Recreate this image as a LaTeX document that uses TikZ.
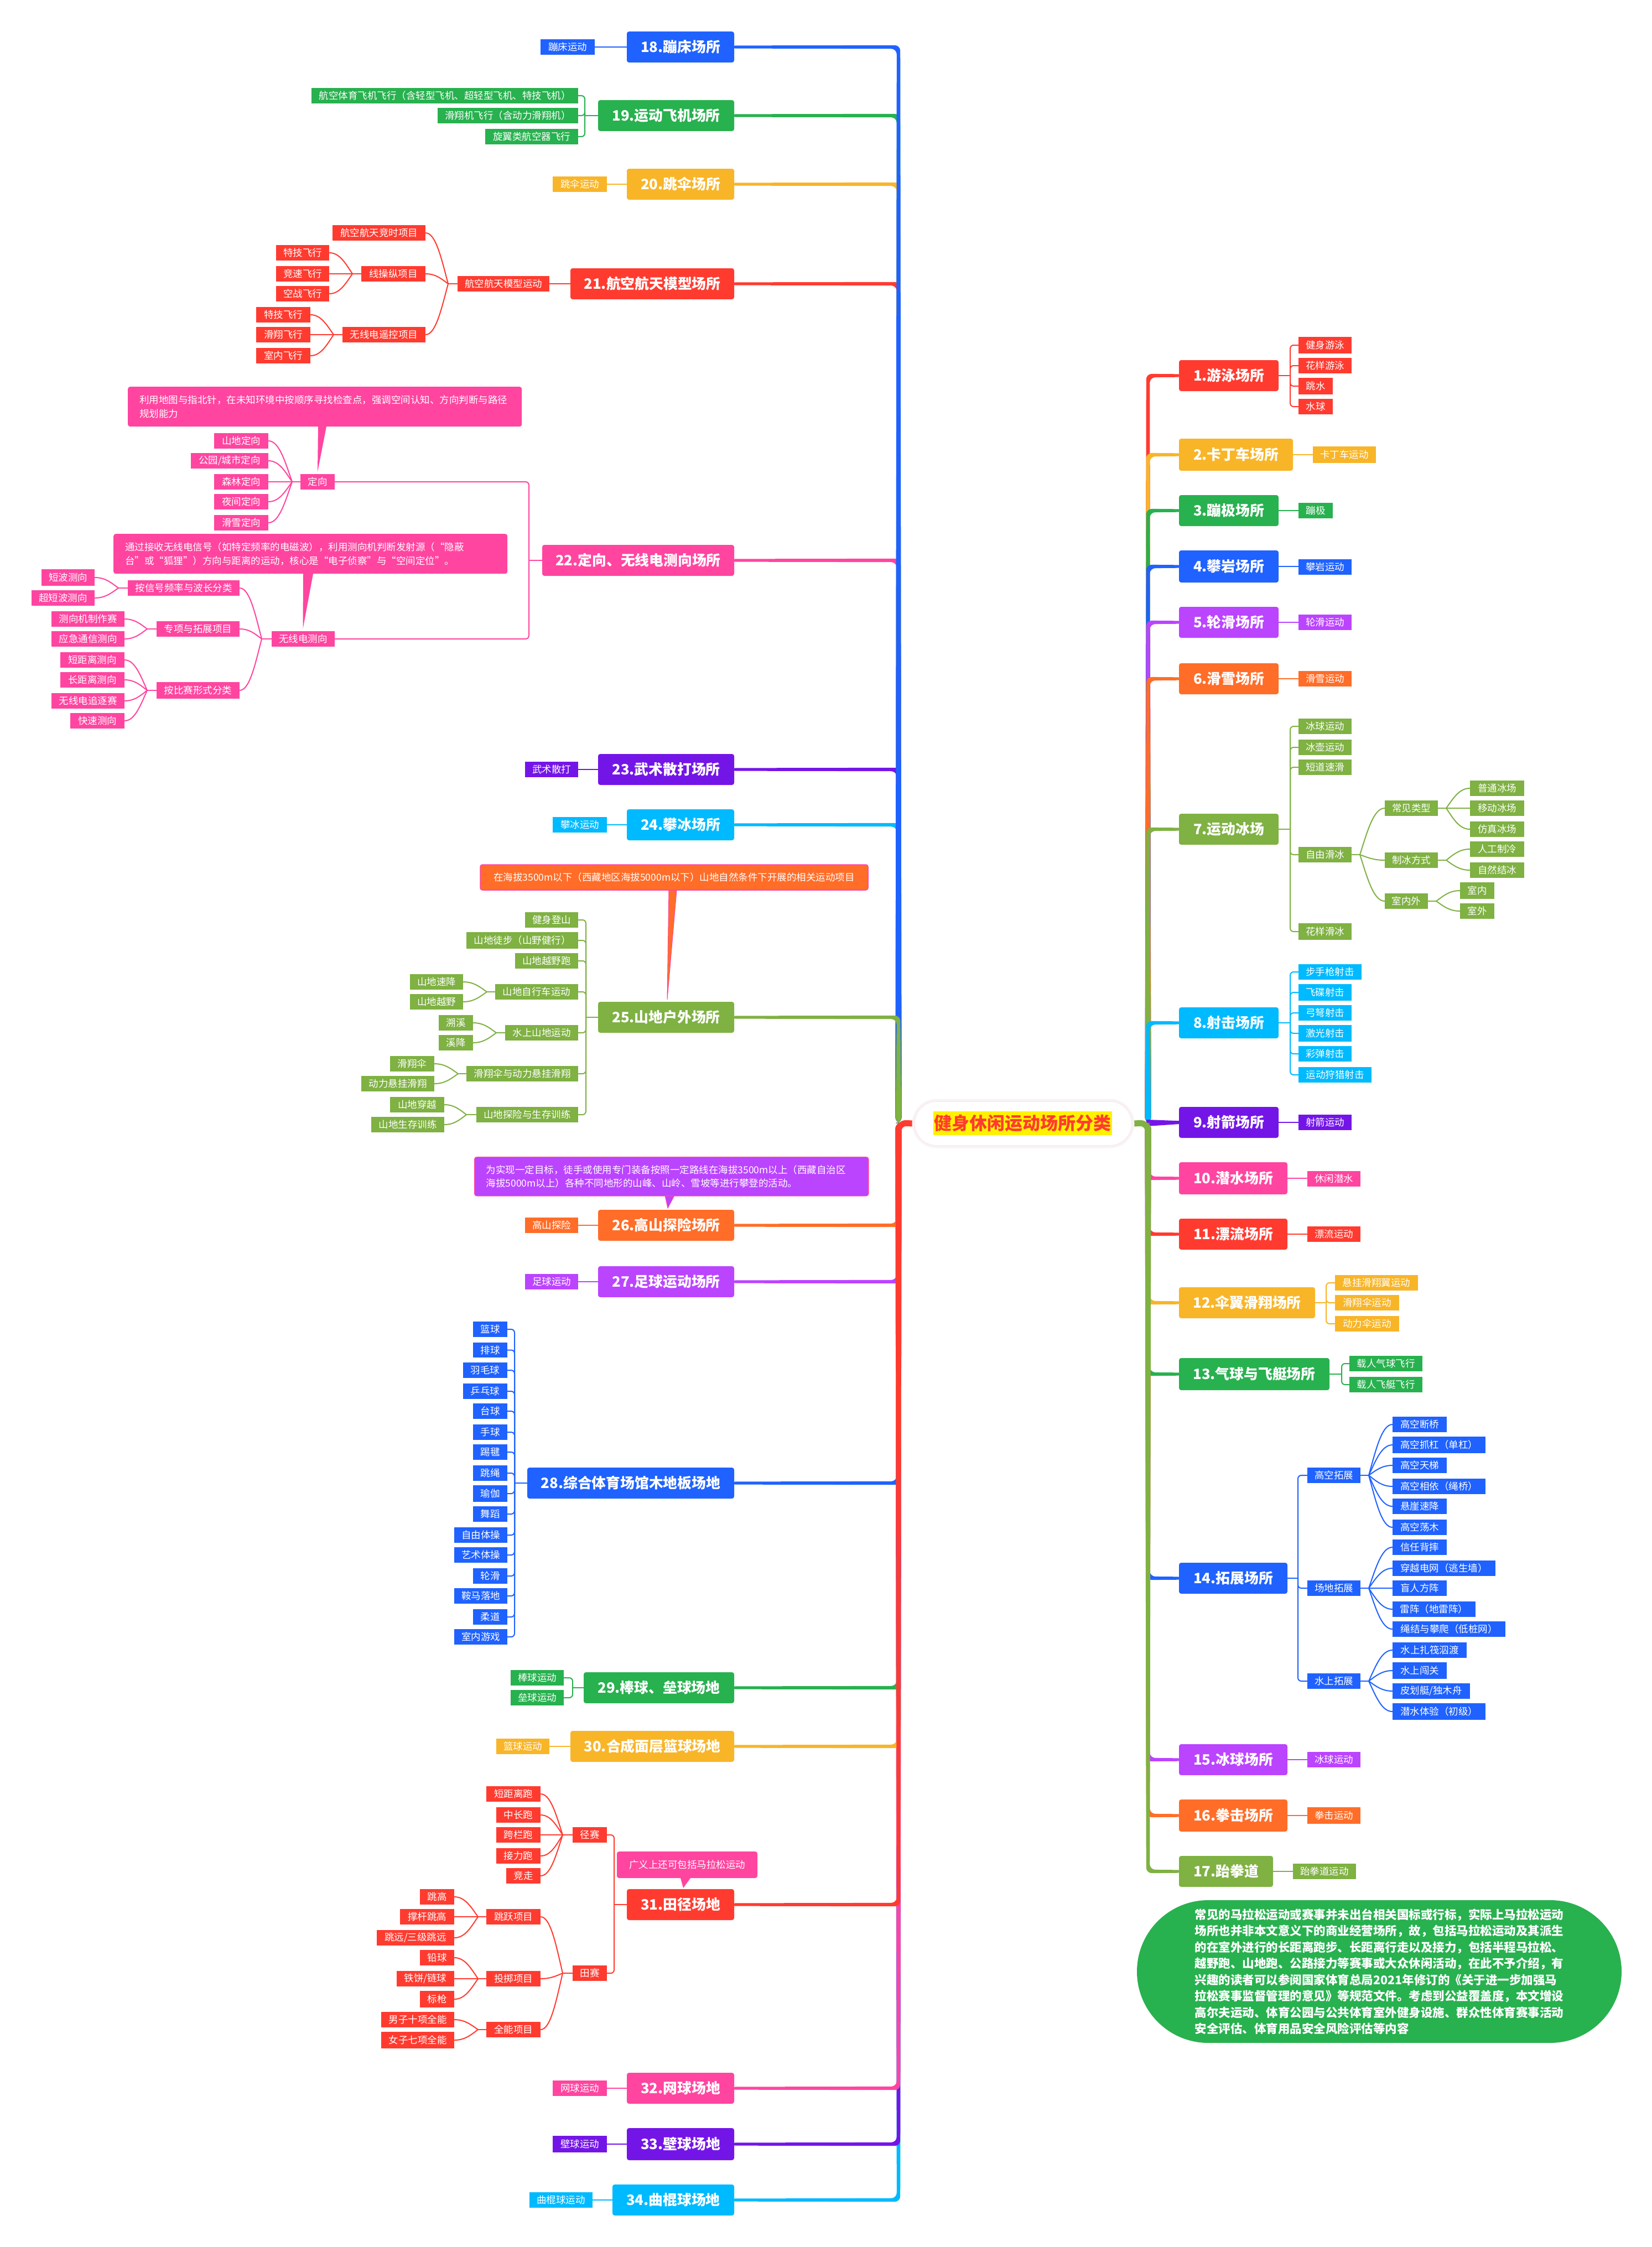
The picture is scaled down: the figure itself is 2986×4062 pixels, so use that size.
\documentclass[tikz,border=0pt]{standalone}
\usepackage{fontspec}
\setmainfont{Noto Sans CJK SC}
\usetikzlibrary{calc,backgrounds}
\definecolor{cR}{HTML}{FF3B30}
\definecolor{cY}{HTML}{F8B528}
\definecolor{cG}{HTML}{28B14F}
\definecolor{cB}{HTML}{1F62FF}
\definecolor{cP}{HTML}{BB44FF}
\definecolor{cO}{HTML}{FF6D28}
\definecolor{cL}{HTML}{7FB143}
\definecolor{cC}{HTML}{00BAFF}
\definecolor{cV}{HTML}{7415E8}
\definecolor{cK}{HTML}{FF45A0}
\tikzset{
  leafbox/.style={inner sep=0pt,text=white,font=\fontsize{17.5}{21}\selectfont},
  topicbox/.style={inner sep=0pt,text=white,rounded corners=4pt,font=\fontsize{25.8}{30}\selectfont\bfseries},
  notebox/.style={inner sep=0pt,text=white,rounded corners=4pt,align=left,font=\fontsize{17.5}{24.5}\selectfont},
  conn/.style={line width=2pt}
}
% colour, name, left, top, right, bottom, text
\newcommand{\lf}[7]{\node[leafbox,fill=#1,minimum width={(#5-#3)*1pt},minimum height={(#6-#4)*1pt}] (#2) at ({(#3+#5)/2},{(#4+#6)/2}) {#7};}
\newcommand{\tp}[7]{\node[topicbox,fill=#1,minimum width={(#5-#3)*1pt},minimum height={(#6-#4)*1pt}] (#2) at ({(#3+#5)/2},{(#4+#6)/2}) {#7};}
% straight link: colour, parent anchor, child anchor
\newcommand{\lk}[3]{\draw[conn,#1,line width=2.5pt] (#2) -- (#2 -| #3);}
% fans: colour, parent, junction x, children
\newcommand{\fanL}[4]{%
  \draw[conn,#1] let \p1=(#2.west) in (\p1) -- (#3pt,\y1);
  \foreach \kid in {#4}{\draw[conn,#1] let \p1=(#2.west), \p2=(\kid.east), \n1={\x2-#3pt}, \n2={\y2-\y1} in (#3pt,\y1) .. controls ({#3pt+0.3*\n1},{\y1+0.5*\n2}) and ({#3pt+0.55*\n1},\y2) .. (\p2);}}
\newcommand{\fanR}[4]{%
  \draw[conn,#1] let \p1=(#2.east) in (\p1) -- (#3pt,\y1);
  \foreach \kid in {#4}{\draw[conn,#1] let \p1=(#2.east), \p2=(\kid.west), \n1={\x2-#3pt}, \n2={\y2-\y1} in (#3pt,\y1) .. controls ({#3pt+0.3*\n1},{\y1+0.5*\n2}) and ({#3pt+0.55*\n1},\y2) .. (\p2);}}
% brackets: colour, parent, junction x, children
\newcommand{\brL}[4]{%
  \draw[conn,#1] let \p1=(#2.west) in (\p1) -- (#3pt,\y1);
  \foreach \kid in {#4}{\draw[conn,#1,rounded corners=6pt] let \p1=(#2.west), \p2=(\kid.east) in (#3pt,\y1) -- (#3pt,\y2) -- (\p2);}}
\newcommand{\brR}[4]{%
  \draw[conn,#1] let \p1=(#2.east) in (\p1) -- (#3pt,\y1);
  \foreach \kid in {#4}{\draw[conn,#1,rounded corners=6pt] let \p1=(#2.east), \p2=(\kid.west) in (#3pt,\y1) -- (#3pt,\y2) -- (\p2);}}
% tapered main branch: colour, topic anchor, trunk x, s(+1 topic above root), d(+1 trunk right of topic)
\newcommand{\branch}[5]{%
  \fill[#1,rounded corners=10pt] let \p1=(#2) in
    ({\x1-(#5)*8pt},{\y1+(#4)*2.6pt}) -- ({#3pt+(#5)*3.2pt},{\y1+(#4)*3.2pt}) -- ({#3pt+(#5)*5.5pt},-2030pt)
    -- ({#3pt-(#5)*5.5pt},-2030pt) -- ({#3pt-(#5)*3.2pt},{\y1-(#4)*3.2pt}) -- ({\x1-(#5)*8pt},{\y1-(#4)*2.6pt}) -- cycle;}
\begin{document}
\begin{tikzpicture}[x=1pt,y=-1pt]
\useasboundingbox (0,0) rectangle (2986,4062);
% ---- root
\node[draw=black!4,line width=9pt,rounded corners=40pt,minimum width=393pt,minimum height=80pt,inner sep=0pt] (rootshadow) at (1849.5,2031) {};
\node[fill=white,draw=cK!12,line width=2pt,rounded corners=40pt,minimum width=393pt,minimum height=80pt,inner sep=0pt] (root) at (1849.5,2031) {};
\node[fill=yellow,text=cR,inner sep=0pt,minimum width=323pt,minimum height=43pt,font=\fontsize{32}{36}\selectfont\bfseries] (roottext) at (1848.5,2030.5) {健身休闲运动场所分类};
% ---- right side
\tp{cR}{t1}{2131}{651}{2311}{707}{1.游泳场所}
\lf{cR}{a1}{2347}{609}{2443}{639}{健身游泳}
\lf{cR}{a2}{2347}{647}{2443}{675}{花样游泳}
\lf{cR}{a3}{2347}{683}{2409}{713}{跳水}
\lf{cR}{a4}{2347}{721}{2409}{749}{水球}
\tp{cY}{t2}{2131}{793}{2337}{851}{2.卡丁车场所}
\lf{cY}{b1}{2373}{807}{2487}{837}{卡丁车运动}
\tp{cG}{t3}{2131}{895}{2311}{951}{3.蹦极场所}
\lf{cG}{c1}{2347}{909}{2409}{937}{蹦极}
\tp{cB}{t4}{2131}{995}{2311}{1053}{4.攀岩场所}
\lf{cB}{d1}{2347}{1011}{2443}{1039}{攀岩运动}
\tp{cP}{t5}{2131}{1097}{2311}{1153}{5.轮滑场所}
\lf{cP}{e1}{2347}{1111}{2443}{1139}{轮滑运动}
\tp{cO}{t6}{2131}{1199}{2311}{1255}{6.滑雪场所}
\lf{cO}{f1}{2347}{1213}{2443}{1241}{滑雪运动}
\tp{cL}{t7}{2131}{1471}{2311}{1527}{7.运动冰场}
\lf{cL}{g1}{2347}{1299}{2443}{1327}{冰球运动}
\lf{cL}{g2}{2347}{1337}{2443}{1365}{冰壶运动}
\lf{cL}{g3}{2347}{1373}{2443}{1401}{短道速滑}
\lf{cL}{g4}{2347}{1531}{2443}{1559}{自由滑冰}
\lf{cL}{g5}{2347}{1669}{2443}{1699}{花样滑冰}
\lf{cL}{g41}{2503}{1447}{2599}{1475}{常见类型}
\lf{cL}{g42}{2503}{1541}{2599}{1569}{制冰方式}
\lf{cL}{g43}{2503}{1615}{2581}{1643}{室内外}
\lf{cL}{g411}{2657}{1411}{2755}{1439}{普通冰场}
\lf{cL}{g412}{2657}{1447}{2755}{1475}{移动冰场}
\lf{cL}{g413}{2657}{1485}{2755}{1513}{仿真冰场}
\lf{cL}{g421}{2657}{1521}{2755}{1549}{人工制冷}
\lf{cL}{g422}{2657}{1559}{2755}{1587}{自然结冰}
\lf{cL}{g431}{2639}{1595}{2701}{1625}{室内}
\lf{cL}{g432}{2639}{1633}{2701}{1661}{室外}
\tp{cC}{t8}{2131}{1821}{2311}{1877}{8.射击场所}
\lf{cC}{h1}{2347}{1743}{2461}{1771}{步手枪射击}
\lf{cC}{h2}{2347}{1779}{2443}{1809}{飞碟射击}
\lf{cC}{h3}{2347}{1817}{2443}{1845}{弓弩射击}
\lf{cC}{h4}{2347}{1853}{2443}{1883}{激光射击}
\lf{cC}{h5}{2347}{1891}{2443}{1919}{彩弹射击}
\lf{cC}{h6}{2347}{1929}{2479}{1957}{运动狩猎射击}
\tp{cV}{t9}{2131}{2001}{2311}{2057}{9.射箭场所}
\lf{cV}{i1}{2347}{2015}{2443}{2043}{射箭运动}
\tp{cK}{t10}{2131}{2101}{2327}{2159}{10.潜水场所}
\lf{cK}{j1}{2363}{2117}{2459}{2145}{休闲潜水}
\tp{cR}{t11}{2131}{2203}{2327}{2259}{11.漂流场所}
\lf{cR}{k1}{2363}{2217}{2459}{2245}{漂流运动}
\tp{cY}{t12}{2131}{2327}{2377}{2383}{12.伞翼滑翔场所}
\lf{cY}{l1}{2413}{2305}{2563}{2333}{悬挂滑翔翼运动}
\lf{cY}{l2}{2413}{2341}{2529}{2369}{滑翔伞运动}
\lf{cY}{l3}{2413}{2379}{2529}{2407}{动力伞运动}
\tp{cG}{t13}{2131}{2455}{2403}{2513}{13.气球与飞艇场所}
\lf{cG}{m1}{2439}{2451}{2571}{2479}{载人气球飞行}
\lf{cG}{m2}{2439}{2489}{2571}{2517}{载人飞艇飞行}
\tp{cB}{t14}{2131}{2825}{2327}{2881}{14.拓展场所}
\lf{cB}{n1}{2363}{2653}{2459}{2681}{高空拓展}
\lf{cB}{n2}{2363}{2857}{2459}{2885}{场地拓展}
\lf{cB}{n3}{2363}{3025}{2459}{3053}{水上拓展}
\lf{cB}{n11}{2517}{2561}{2615}{2589}{高空断桥}
\lf{cB}{n12}{2517}{2597}{2685}{2627}{高空抓杠（单杠）}
\lf{cB}{n13}{2517}{2635}{2615}{2663}{高空天梯}
\lf{cB}{n14}{2517}{2673}{2685}{2701}{高空相依（绳桥）}
\lf{cB}{n15}{2517}{2709}{2615}{2737}{悬崖速降}
\lf{cB}{n16}{2517}{2747}{2615}{2775}{高空荡木}
\lf{cB}{n21}{2517}{2783}{2615}{2811}{信任背摔}
\lf{cB}{n22}{2517}{2821}{2703}{2849}{穿越电网（逃生墙）}
\lf{cB}{n23}{2517}{2857}{2615}{2885}{盲人方阵}
\lf{cB}{n24}{2517}{2895}{2667}{2923}{雷阵（地雷阵）}
\lf{cB}{n25}{2517}{2931}{2721}{2959}{绳结与攀爬（低桩网）}
\lf{cB}{n31}{2517}{2969}{2651}{2997}{水上扎筏泅渡}
\lf{cB}{n32}{2517}{3005}{2615}{3035}{水上闯关}
\lf{cB}{n33}{2517}{3043}{2657}{3071}{皮划艇/独木舟}
\lf{cB}{n34}{2517}{3079}{2685}{3109}{潜水体验（初级）}
\tp{cP}{t15}{2131}{3153}{2327}{3209}{15.冰球场所}
\lf{cP}{o1}{2363}{3167}{2459}{3195}{冰球运动}
\tp{cO}{t16}{2131}{3253}{2327}{3311}{16.拳击场所}
\lf{cO}{p1}{2363}{3267}{2459}{3297}{拳击运动}
\tp{cL}{t17}{2131}{3355}{2301}{3411}{17.跆拳道}
\lf{cL}{q1}{2337}{3369}{2451}{3397}{跆拳道运动}
\node[fill=cG,rounded corners=129pt,minimum width=876pt,minimum height=258pt,inner sep=0pt,text=white,align=left,font=\fontsize{21.5}{29.5}\selectfont\bfseries] (memo) at (2493,3564) {常见的马拉松运动或赛事并未出台相关国标或行标，实际上马拉松运动\\场所也并非本文意义下的商业经营场所，故，包括马拉松运动及其派生\\的在室外进行的长距离跑步、长距离行走以及接力，包括半程马拉松、\\越野跑、山地跑、公路接力等赛事或大众休闲活动，在此不予介绍，有\\兴趣的读者可以参阅国家体育总局2021年修订的《关于进一步加强马\\拉松赛事监督管理的意见》等规范文件。考虑到公益覆盖度，本文增设\\高尔夫运动、体育公园与公共体育室外健身设施、群众性体育赛事活动\\安全评估、体育用品安全风险评估等内容};
% ---- left side, upper
\tp{cB}{t18}{1133}{57}{1327}{113}{18.蹦床场所}
\lf{cB}{r1}{977}{71}{1075}{99}{蹦床运动}
\tp{cG}{t19}{1081}{181}{1327}{237}{19.运动飞机场所}
\lf{cG}{s1}{563}{159}{1045}{187}{航空体育飞机飞行（含轻型飞机、超轻型飞机、特技飞机）}
\lf{cG}{s2}{791}{195}{1045}{223}{滑翔机飞行（含动力滑翔机）}
\lf{cG}{s3}{877}{233}{1045}{261}{旋翼类航空器飞行}
\tp{cY}{t20}{1133}{305}{1327}{361}{20.跳伞场所}
\lf{cY}{u1}{999}{319}{1097}{347}{跳伞运动}
\tp{cR}{t21}{1031}{485}{1327}{541}{21.航空航天模型场所}
\lf{cR}{v0}{827}{499}{993}{527}{航空航天模型运动}
\lf{cR}{v1}{601}{407}{769}{435}{航空航天竞时项目}
\lf{cR}{v2}{653}{481}{769}{509}{线操纵项目}
\lf{cR}{v3}{619}{591}{769}{619}{无线电遥控项目}
\lf{cR}{v21}{499}{443}{595}{471}{特技飞行}
\lf{cR}{v22}{499}{481}{595}{509}{竞速飞行}
\lf{cR}{v23}{499}{517}{595}{545}{空战飞行}
\lf{cR}{v31}{463}{555}{561}{583}{特技飞行}
\lf{cR}{v32}{463}{591}{561}{619}{滑翔飞行}
\lf{cR}{v33}{463}{629}{561}{657}{室内飞行}
\tp{cK}{t22}{980}{985}{1327}{1041}{22.定向、无线电测向场所}
\lf{cK}{w1}{543}{857}{605}{885}{定向}
\lf{cK}{w2}{491}{1141}{605}{1169}{无线电测向}
\lf{cK}{w11}{387}{783}{485}{811}{山地定向}
\lf{cK}{w12}{345}{819}{485}{847}{公园/城市定向}
\lf{cK}{w13}{387}{857}{485}{885}{森林定向}
\lf{cK}{w14}{387}{893}{485}{921}{夜间定向}
\lf{cK}{w15}{387}{931}{485}{959}{滑雪定向}
\lf{cK}{w21}{231}{1049}{433}{1077}{按信号频率与波长分类}
\lf{cK}{w22}{283}{1123}{433}{1151}{专项与拓展项目}
\lf{cK}{w23}{283}{1233}{433}{1263}{按比赛形式分类}
\lf{cK}{w211}{75}{1029}{171}{1059}{短波测向}
\lf{cK}{w212}{57}{1067}{171}{1095}{超短波测向}
\lf{cK}{w221}{93}{1105}{225}{1133}{测向机制作赛}
\lf{cK}{w222}{93}{1141}{225}{1169}{应急通信测向}
\lf{cK}{w231}{109}{1179}{225}{1207}{短距离测向}
\lf{cK}{w232}{109}{1215}{225}{1243}{长距离测向}
\lf{cK}{w233}{93}{1253}{225}{1281}{无线电追逐赛}
\lf{cK}{w234}{127}{1289}{225}{1317}{快速测向}
\node[notebox,fill=cK,minimum width=712pt,minimum height=72pt,anchor=north west,text width=670pt,inner xsep=21pt] (note1) at (231,699) {利用地图与指北针，在未知环境中按顺序寻找检查点，强调空间认知、方向判断与路径\\规划能力};
\node[notebox,fill=cK,minimum width=712pt,minimum height=72pt,anchor=north west,text width=670pt,inner xsep=21pt] (note2) at (205,965) {通过接收无线电信号（如特定频率的电磁波），利用测向机判断发射源（“隐蔽\\台”或“狐狸”）方向与距离的运动，核心是“电子侦察”与“空间定位”。};
\tp{cV}{t23}{1081}{1363}{1327}{1419}{23.武术散打场所}
\lf{cV}{x1}{949}{1377}{1045}{1405}{武术散打}
\tp{cC}{t24}{1133}{1463}{1327}{1519}{24.攀冰场所}
\lf{cC}{y1}{999}{1477}{1097}{1505}{攀冰运动}
\node[notebox,fill=cO,draw=cK,line width=1.5pt,minimum width=701pt,minimum height=46pt,align=center] (note3) at (1218.5,1586) {在海拔3500m以下（西藏地区海拔5000m以下）山地自然条件下开展的相关运动项目};
\tp{cL}{t25}{1081}{1811}{1327}{1867}{25.山地户外场所}
\lf{cL}{z1}{949}{1649}{1045}{1677}{健身登山}
\lf{cL}{z2}{843}{1685}{1045}{1715}{山地徒步（山野健行）}
\lf{cL}{z3}{931}{1723}{1045}{1751}{山地越野跑}
\lf{cL}{z4}{895}{1779}{1045}{1807}{山地自行车运动}
\lf{cL}{z5}{913}{1853}{1045}{1881}{水上山地运动}
\lf{cL}{z6}{843}{1927}{1045}{1955}{滑翔伞与动力悬挂滑翔}
\lf{cL}{z7}{861}{2001}{1045}{2029}{山地探险与生存训练}
\lf{cL}{z41}{741}{1761}{837}{1789}{山地速降}
\lf{cL}{z42}{741}{1797}{837}{1825}{山地越野}
\lf{cL}{z51}{793}{1835}{855}{1863}{溯溪}
\lf{cL}{z52}{793}{1871}{855}{1899}{溪降}
\lf{cL}{z61}{705}{1909}{785}{1937}{滑翔伞}
\lf{cL}{z62}{653}{1945}{785}{1973}{动力悬挂滑翔}
\lf{cL}{z71}{705}{1983}{803}{2011}{山地穿越}
\lf{cL}{z72}{671}{2019}{803}{2047}{山地生存训练}
% ---- left side, lower
\node[notebox,fill=cP,draw=cK,line width=1.5pt,minimum width=712pt,minimum height=70pt,anchor=north west,text width=670pt,inner xsep=21pt] (note4) at (857,2091) {为实现一定目标，徒手或使用专门装备按照一定路线在海拔3500m以上（西藏自治区\\海拔5000m以上）各种不同地形的山峰、山岭、雪坡等进行攀登的活动。};
\tp{cO}{t26}{1081}{2187}{1327}{2243}{26.高山探险场所}
\lf{cO}{aa1}{949}{2201}{1045}{2229}{高山探险}
\tp{cP}{t27}{1081}{2289}{1327}{2345}{27.足球运动场所}
\lf{cP}{ab1}{949}{2303}{1045}{2331}{足球运动}
\tp{cB}{t28}{953}{2653}{1327}{2709}{28.综合体育场馆木地板场地}
\lf{cB}{ac1}{855}{2389}{917}{2417}{篮球}
\lf{cB}{ac2}{855}{2427}{917}{2454}{排球}
\lf{cB}{ac3}{837}{2463}{917}{2491}{羽毛球}
\lf{cB}{ac4}{837}{2501}{917}{2529}{乒乓球}
\lf{cB}{ac5}{855}{2537}{917}{2565}{台球}
\lf{cB}{ac6}{855}{2575}{917}{2603}{手球}
\lf{cB}{ac7}{855}{2611}{917}{2639}{踢毽}
\lf{cB}{ac8}{855}{2649}{917}{2677}{跳绳}
\lf{cB}{ac9}{855}{2685}{917}{2715}{瑜伽}
\lf{cB}{ac10}{855}{2723}{917}{2751}{舞蹈}
\lf{cB}{ac11}{821}{2761}{917}{2789}{自由体操}
\lf{cB}{ac12}{821}{2797}{917}{2825}{艺术体操}
\lf{cB}{ac13}{855}{2835}{917}{2863}{轮滑}
\lf{cB}{ac14}{821}{2871}{917}{2899}{鞍马落地}
\lf{cB}{ac15}{855}{2909}{917}{2937}{柔道}
\lf{cB}{ac16}{821}{2945}{917}{2973}{室内游戏}
\tp{cG}{t29}{1055}{3023}{1327}{3079}{29.棒球、垒球场地}
\lf{cG}{ad1}{923}{3019}{1019}{3047}{棒球运动}
\lf{cG}{ad2}{923}{3055}{1019}{3083}{垒球运动}
\tp{cY}{t30}{1031}{3129}{1327}{3185}{30.合成面层篮球场地}
\lf{cY}{ae1}{897}{3143}{993}{3171}{篮球运动}
\tp{cR}{t31}{1133}{3415}{1327}{3471}{31.田径场地}
\node[notebox,fill=cK,minimum width=254pt,minimum height=48pt,align=center] (note5) at (1242,3371) {广义上还可包括马拉松运动};
\lf{cR}{af1}{1035}{3303}{1097}{3331}{径赛}
\lf{cR}{af2}{1035}{3553}{1097}{3581}{田赛}
\lf{cR}{af11}{879}{3229}{977}{3257}{短距离跑}
\lf{cR}{af12}{897}{3267}{977}{3295}{中长跑}
\lf{cR}{af13}{897}{3303}{977}{3331}{跨栏跑}
\lf{cR}{af14}{897}{3341}{977}{3369}{接力跑}
\lf{cR}{af15}{915}{3377}{977}{3405}{竞走}
\lf{cR}{af21}{879}{3451}{977}{3479}{跳跃项目}
\lf{cR}{af22}{879}{3563}{977}{3591}{投掷项目}
\lf{cR}{af23}{879}{3655}{977}{3683}{全能项目}
\lf{cR}{ag1}{759}{3415}{821}{3443}{跳高}
\lf{cR}{ag2}{723}{3451}{821}{3479}{撑杆跳高}
\lf{cR}{ag3}{681}{3489}{821}{3517}{跳远/三级跳远}
\lf{cR}{ah1}{759}{3525}{821}{3553}{铅球}
\lf{cR}{ah2}{717}{3563}{821}{3591}{铁饼/链球}
\lf{cR}{ah3}{759}{3599}{821}{3629}{标枪}
\lf{cR}{ai1}{689}{3637}{821}{3665}{男子十项全能}
\lf{cR}{ai2}{689}{3673}{821}{3703}{女子七项全能}
\tp{cK}{t32}{1133}{3747}{1327}{3803}{32.网球场地}
\lf{cK}{aj1}{999}{3761}{1097}{3789}{网球运动}
\tp{cV}{t33}{1133}{3847}{1327}{3905}{33.壁球场地}
\lf{cV}{ak1}{999}{3861}{1097}{3891}{壁球运动}
\tp{cC}{t34}{1107}{3949}{1327}{4005}{34.曲棍球场地}
\lf{cC}{al1}{957}{3963}{1071}{3991}{曲棍球运动}
% ---- connectors and callout tails behind the nodes
\begin{pgfonlayer}{background}
\fill[white] (0,0) rectangle (2986,4062);
% upper left branches
\foreach \tn/\col in {t19/cG,t20/cY,t21/cR,t22/cK,t23/cV,t24/cC,t18/cB,t25/cL}{\branch{\col}{\tn.east}{1624}{1}{1}}
% lower left branches
\foreach \tn/\col in {t34/cC,t33/cV,t32/cK,t26/cO,t27/cP,t28/cB,t29/cG,t30/cY,t31/cR}{\branch{\col}{\tn.east}{1624}{-1}{1}}
\draw[cR,line width=11pt,rounded corners=14pt] (root.west) -- (1624,2030) -- (1624,2090);
% upper right branches
\foreach \tn/\col in {t1/cR,t2/cY,t3/cG,t4/cB,t5/cP,t6/cO,t7/cL,t8/cC}{\branch{\col}{\tn.west}{2075}{1}{-1}}
\fill[cV] (t9.west) ++(8,-2.5) -- (2072,2024) -- (2072,2036) -- ($(t9.west)+(8,2.5)$) -- cycle;
% lower right branches
\foreach \tn/\col in {t10/cK,t11/cR,t12/cY,t13/cG,t14/cB,t15/cP,t16/cO,t17/cL}{\branch{\col}{\tn.west}{2075}{-1}{-1}}
\draw[cL,line width=11pt,rounded corners=14pt] (root.east) -- (2075,2030) -- (2075,2090);
% callout tails
\fill[cK] (575,771) -- (590,771) -- (574,853) -- cycle;
\fill[cK] (548,1037) -- (566,1037) -- (547.5,1137) -- cycle;
\filldraw[fill=cO,draw=cK,line width=1pt] (1209,1609) -- (1223,1609) -- (1206,1807) -- cycle;
\filldraw[fill=cP,draw=cK,line width=1pt] (1202,2161) -- (1219,2161) -- (1207,2184) -- cycle;
\fill[cK] (1230,3395) -- (1248,3395) -- (1235,3413) -- cycle;
\end{pgfonlayer}
% right links
\brR{cR}{t1}{2332}{a1,a2,a3,a4}
\lk{cY}{t2.east}{b1.west}
\lk{cG}{t3.east}{c1.west}
\lk{cB}{t4.east}{d1.west}
\lk{cP}{t5.east}{e1.west}
\lk{cO}{t6.east}{f1.west}
\brR{cL}{t7}{2332}{g1,g2,g3,g4,g5}
\fanR{cL}{g4}{2458}{g41,g42,g43}
\fanR{cL}{g41}{2614}{g411,g412,g413}
\fanR{cL}{g42}{2614}{g421,g422}
\fanR{cL}{g43}{2596}{g431,g432}
\brR{cC}{t8}{2332}{h1,h2,h3,h4,h5,h6}
\lk{cV}{t9.east}{i1.west}
\lk{cK}{t10.east}{j1.west}
\lk{cR}{t11.east}{k1.west}
\brR{cY}{t12}{2397}{l1,l2,l3}
\brR{cG}{t13}{2425}{m1,m2}
\brR{cB}{t14}{2346}{n1,n2,n3}
\fanR{cB}{n1}{2474}{n11,n12,n13,n14,n15,n16}
\fanR{cB}{n2}{2474}{n21,n22,n23,n24,n25}
\fanR{cB}{n3}{2474}{n31,n32,n33,n34}
\lk{cP}{t15.east}{o1.west}
\lk{cO}{t16.east}{p1.west}
\lk{cL}{t17.east}{q1.west}
% left links
\lk{cB}{t18.west}{r1.east}
\brL{cG}{t19}{1057}{s1,s2,s3}
\lk{cY}{t20.west}{u1.east}
\lk{cR}{t21.west}{v0.east}
\fanL{cR}{v0}{810}{v1,v2,v3}
\fanL{cR}{v2}{637}{v21,v22,v23}
\fanL{cR}{v3}{603}{v31,v32,v33}
\brL{cK}{t22}{956}{w1,w2}
\fanL{cK}{w1}{528}{w11,w12,w13,w14,w15}
\fanL{cK}{w2}{473}{w21,w22,w23}
\fanL{cK}{w21}{214}{w211,w212}
\fanL{cK}{w22}{266}{w221,w222}
\fanL{cK}{w23}{266}{w231,w232,w233,w234}
\lk{cV}{t23.west}{x1.east}
\lk{cC}{t24.west}{y1.east}
\brL{cL}{t25}{1059}{z1,z2,z3,z4,z5,z6,z7}
\fanL{cL}{z4}{880}{z41,z42}
\fanL{cL}{z5}{897}{z51,z52}
\fanL{cL}{z6}{828}{z61,z62}
\fanL{cL}{z7}{843}{z71,z72}
\lk{cO}{t26.west}{aa1.east}
\lk{cP}{t27.west}{ab1.east}
\brL{cB}{t28}{930}{ac1,ac2,ac3,ac4,ac5,ac6,ac7,ac8,ac9,ac10,ac11,ac12,ac13,ac14,ac15,ac16}
\brL{cG}{t29}{1035}{ad1,ad2}
\lk{cY}{t30.west}{ae1.east}
\brL{cR}{t31}{1110}{af1,af2}
\fanL{cR}{af1}{1017}{af11,af12,af13,af14,af15}
\fanL{cR}{af2}{1017}{af21,af22,af23}
\fanL{cR}{af21}{864}{ag1,ag2,ag3}
\fanL{cR}{af22}{864}{ah1,ah2,ah3}
\fanL{cR}{af23}{864}{ai1,ai2}
\lk{cK}{t32.west}{aj1.east}
\lk{cV}{t33.west}{ak1.east}
\lk{cC}{t34.west}{al1.east}
\end{tikzpicture}
\end{document}
